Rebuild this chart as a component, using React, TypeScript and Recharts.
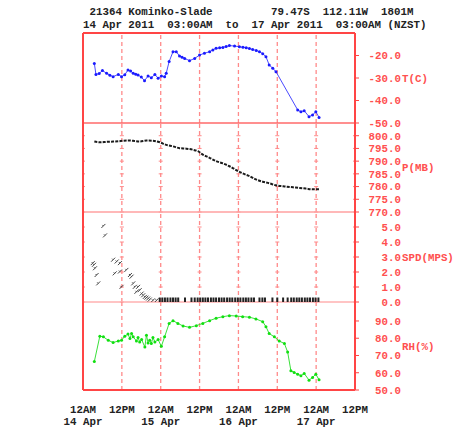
import React from 'react';
import { LineChart, Line, XAxis, YAxis, ReferenceLine } from 'recharts';

// ---------- data (hours since 14 Apr 2011 00:00) ----------
const tempHours = [3.5, 4, 5, 6, 7.3, 8.3, 9.3, 10.9, 11.9, 12.9, 13.9, 14.7, 15.5, 16.3, 17, 18, 19, 20.1, 21.1, 22.2, 23.2, 24.2, 25.2, 25.7, 26.6, 27.8, 28.8, 29.8, 30.6, 31.4, 32.9, 34.5, 36, 37.5, 39.1, 40.1, 41.1, 42.2, 43.2, 44.2, 45.2, 46.8, 48.3, 49.4, 50.4, 51.4, 52.4, 53.5, 54.5, 55.5, 56.5, 57.5, 58.6, 59.6, 66.3, 67.3, 68.3, 69.8, 70.9, 71.9, 72.9];
const tempValues = [-23.5, -28.4, -28.0, -26.7, -27.9, -28.8, -29.4, -28.4, -29.4, -28.6, -26.4, -26.9, -27.9, -28.3, -28.7, -29.6, -31.2, -29.1, -29.9, -28.4, -30.1, -29.1, -29.4, -27.9, -22.7, -18.3, -18.3, -20.2, -20.8, -21.3, -22.3, -21.3, -19.8, -19.0, -18.3, -17.5, -16.8, -16.6, -16.4, -16.0, -15.6, -15.8, -16.1, -16.3, -16.5, -16.9, -17.3, -17.8, -18.3, -19.2, -20.5, -24.2, -25.7, -27.2, -44.2, -45.0, -44.5, -47.2, -46.4, -45.0, -47.5];

const presHours = [3.5, 5.2, 7.3, 9.3, 10.9, 12.4, 14.5, 16, 17.5, 19.6, 21.6, 23.7, 25.7, 27.8, 29.8, 31.9, 33.9, 35.5, 37, 39.1, 41.1, 43.2, 45.2, 47.3, 49.3, 51.4, 53.4, 55.5, 57.5, 59.6, 62.7, 65.7, 68.8, 70.9, 72.9];
const presValues = [797.7, 797.4, 797.6, 797.7, 797.8, 798.0, 798.1, 797.9, 797.7, 798.1, 798.0, 797.4, 796.4, 795.8, 795.1, 794.9, 794.5, 793.9, 792.6, 791.3, 790.0, 789.1, 788.0, 786.5, 785.2, 784.1, 782.8, 781.9, 781.3, 780.5, 780.0, 779.6, 779.2, 778.9, 778.9];

const spdHours = [3.0, 3.4, 3.7, 4.2, 4.7, 6.3, 6.8, 9.3, 9.8, 10.4, 11.4, 11.4, 11.9, 13.4, 14.5, 15.0, 15.5, 16.0, 16.5, 17.0, 17.5, 18.1, 18.6, 19.1, 19.6, 20.1, 20.6, 21.6, 22.7, 23.7, 24.5, 25.3, 26.1, 27, 27.8, 28.6, 29.4, 31.5, 33.5, 34.5, 35.4, 36.2, 37.0, 37.8, 38.6, 39.5, 40.3, 41.1, 42, 42.8, 43.6, 44.5, 45.3, 46.1, 47, 47.8, 48.6, 49.5, 50.3, 51.1, 52, 52.8, 54.5, 55.4, 56.2, 58.5, 60, 61.8, 63.2, 64.3, 65.1, 66, 66.8, 67.6, 68.5, 69.3, 70.1, 71, 71.8, 72.7];
const spdValues = [2.59, 2.48, 2.25, 1.8, 1.24, 5.07, 4.44, 2.82, 1.91, 2.7, 2.59, 2.03, 1.01, 2.14, 1.8, 1.69, 1.24, 1.01, 0.68, 1.01, 0.79, 0.56, 0.45, 0.34, 0.29, 0.23, 0.16, 0.11, 0.11, 0, 0, 0, 0, 0, 0, 0, 0, 0, 0, 0, 0, 0, 0, 0, 0, 0, 0, 0, 0, 0, 0, 0, 0, 0, 0, 0, 0, 0, 0, 0, 0, 0, 0, 0, 0, 0, 0, 0, 0, 0, 0, 0, 0, 0, 0, 0, 0, 0, 0, 0];

const rhHours = [3.5, 5.2, 6.3, 7.8, 9.3, 10.9, 11.9, 12.9, 13.9, 14.5, 15, 15.5, 16.5, 17, 17.5, 18.1, 19.1, 19.6, 20.1, 20.6, 21.1, 21.6, 22.2, 23.2, 24.2, 25.2, 26.6, 27.8, 29.3, 30.9, 32.9, 35, 37, 39.1, 41.1, 43.2, 45.2, 47.3, 49.3, 51.4, 53.4, 55.5, 56.5, 57.5, 59.1, 60.6, 62.2, 63.2, 64.2, 65.2, 66.3, 67.3, 68.3, 69.8, 70.9, 71.9, 72.9];
const rhValues = [66.5, 81.2, 80.8, 78.8, 77.5, 78.4, 78.8, 81.2, 82.4, 79.8, 82.7, 80.8, 78.4, 80.4, 77.8, 79.2, 74.9, 81.8, 77.3, 78.8, 76.9, 80.4, 77.8, 79.2, 75.3, 80.8, 88.6, 90.2, 88.6, 87.1, 86.3, 87.3, 88.6, 90.2, 91.6, 92.5, 93.1, 92.9, 92.5, 92.2, 91.2, 89.6, 86.7, 82.7, 80.8, 78.4, 76.9, 72.0, 61.2, 60.2, 59.2, 58.2, 59.6, 55.7, 57.3, 59.2, 55.9];

const gridHours = [12, 24, 36, 48, 60, 72];
const xTickHours = [0, 12, 24, 36, 48, 60, 72, 84];
const xTickTimes = ['12AM', '12PM', '12AM', '12PM', '12AM', '12PM', '12AM', '12PM'];
const xTickDates = ['14 Apr', '', '15 Apr', '', '16 Apr', '', '17 Apr', ''];

const tempTicks = [-50, -40, -30, -20];
const presTicks = [770, 775, 780, 785, 790, 795, 800];
const spdTicks = [0, 1, 2, 3, 4, 5];
const rhTicks = [50, 60, 70, 80, 90];

const titleLine1 = ' 21364 Kominko-Slade         79.47S  112.11W  1801M';
const titleLine2 = '14 Apr 2011  03:00AM  to  17 Apr 2011  03:00AM (NZST)';

// ---------- styling ----------
const FONT = '"Liberation Mono", "DejaVu Sans Mono", monospace';
const FS = 10.8;
const FW = 'bold';
const RED_TEXT = '#ff5050';
const FRAME = '#ff4545';
const GRID = '#ff8a8a';

const LEFT = 83;
const RIGHT_W = 105;
const PLOT_W = 460 - LEFT - RIGHT_W;
const STEP12 = (PLOT_W / 84) * 12;
const PAD = 9;

const toRows = (hours: number[], values: number[]) => hours.map((h, i) => ({ h, v: values[i] }));

function RightTick(props: any) {
  const { x, y, payload } = props;
  return (
    <text x={x} y={y} dy={3.8} textAnchor="end" fill={RED_TEXT} fontFamily={FONT} fontSize={FS} fontWeight={FW}>
      {Number(payload.value).toFixed(1)}
    </text>
  );
}

function BottomTick(props: any) {
  const { x, y, payload } = props;
  const i = xTickHours.indexOf(payload.value);
  return (
    <g>
      <text x={x} y={y + 22.5} textAnchor="middle" fill="#222" fontFamily={FONT} fontSize={FS} fontWeight={FW}>
        {xTickTimes[i]}
      </text>
      <text x={x} y={y + 34.5} textAnchor="middle" fill="#222" fontFamily={FONT} fontSize={FS} fontWeight={FW}>
        {xTickDates[i]}
      </text>
    </g>
  );
}

function SpdDot(props: any) {
  const { cx, cy, value, index } = props;
  if (cx == null || cy == null) return <g key={index} />;
  if (value === 0) {
    return <rect key={index} x={cx - 1} y={cy - 4.5} width={2} height={6} fill="#222" />;
  }
  return <path key={index} d={`M${cx - 2},${cy + 2}L${cx + 2},${cy - 2}M${cx - 1},${cy - 1}L${cx},${cy}`} stroke="#444" strokeWidth={1} fill="none" />;
}

type PanelProps = {
  top: number;
  plotHeight: number;
  rows: { h: number; v: number }[];
  domain: [number, number];
  ticks: number[];
  title: string;
  topLine?: string;
  bottomLine?: string;
  crossTicks?: boolean;
  showX?: boolean;
  children: React.ReactNode;
};

function Panel({ top, plotHeight, rows, domain, ticks, title, topLine, bottomLine, crossTicks, showX, children }: PanelProps) {
  const xh = showX ? 40 : 0;
  const bottomPad = showX ? 0 : PAD;
  const h = plotHeight + PAD + bottomPad + xh;
  const titleContent = (p: any) => {
    const vb = p.viewBox || {};
    return (
      <text x={vb.x + 47} y={vb.y + vb.height / 2} dy={3.8} fill={RED_TEXT} fontFamily={FONT} fontSize={FS} fontWeight={FW}>
        {title}
      </text>
    );
  };
  return (
    <div style={{ position: 'absolute', left: 0, top: top - PAD, width: 460, height: h }}>
      <LineChart width={460} height={h} data={rows} margin={{ top: PAD, right: 0, bottom: bottomPad, left: 0 }}>
        <XAxis
          dataKey="h"
          type="number"
          domain={[0, 84]}
          ticks={xTickHours}
          allowDataOverflow
          hide={!showX}
          height={xh}
          axisLine={{ stroke: FRAME, strokeWidth: 2 }}
          tickLine={false}
          tickSize={0}
          tickMargin={0}
          interval={0}
          tick={<BottomTick />}
        />
        <YAxis yAxisId="l" orientation="left" width={LEFT} domain={domain} allowDataOverflow type="number" tick={false} tickLine={false} axisLine={{ stroke: FRAME, strokeWidth: 2 }} />
        <YAxis
          yAxisId="r"
          orientation="right"
          width={RIGHT_W}
          domain={domain}
          allowDataOverflow
          type="number"
          ticks={ticks}
          interval={0}
          tickSize={4}
          tickMargin={42}
          tickLine={{ stroke: FRAME, strokeWidth: 1 }}
          axisLine={{ stroke: FRAME, strokeWidth: 2 }}
          tick={<RightTick />}
          label={{ value: title, content: titleContent }}
        />
        {gridHours.map((g) => (
          <ReferenceLine key={g} x={g} yAxisId="r" stroke={GRID} strokeWidth={1.3} strokeDasharray="4 3" />
        ))}
        {crossTicks &&
          ticks.map((t) => (
            <ReferenceLine key={`c${t}`} y={t} yAxisId="r" stroke={GRID} strokeWidth={1} strokeDasharray={`4 ${STEP12 - 4}`} strokeDashoffset={2} />
          ))}
        {topLine && <ReferenceLine y={domain[1]} yAxisId="r" stroke={topLine} strokeWidth={2} />}
        {bottomLine && <ReferenceLine y={domain[0]} yAxisId="r" stroke={bottomLine} strokeWidth={1.6} />}
        {children}
      </LineChart>
    </div>
  );
}

export default function App() {
  return (
    <div style={{ position: 'absolute', left: 0, top: 0, width: 460, height: 430, background: '#fff', overflow: 'hidden' }}>
      <div style={{ position: 'absolute', left: LEFT, top: 6, fontFamily: FONT, fontSize: FS, fontWeight: FW, lineHeight: '13px', whiteSpace: 'pre', color: '#222' }}>
        <div>{titleLine1}</div>
        <div>{titleLine2}</div>
      </div>
      <Panel top={33} plotHeight={90} rows={toRows(tempHours, tempValues)} domain={[-50, -10]} ticks={tempTicks} title="T(C)" topLine={FRAME} bottomLine="#ff6a6a">
        <Line yAxisId="r" dataKey="v" type="linear" stroke="#4a4aff" strokeWidth={1} dot={{ r: 1.5, fill: '#1a1aff', stroke: 'none' }} isAnimationActive={false} />
      </Panel>
      <Panel top={123} plotHeight={89} rows={toRows(presHours, presValues)} domain={[770, 805]} ticks={presTicks} title="P(MB)" bottomLine="#ffa0a0" crossTicks>
        <Line yAxisId="r" dataKey="v" type="monotone" stroke="#1a1a1a" strokeWidth={2} strokeDasharray="3 1.2" dot={false} isAnimationActive={false} />
      </Panel>
      <Panel top={212} plotHeight={90} rows={toRows(spdHours, spdValues)} domain={[0, 6]} ticks={spdTicks} title="SPD(MPS)" bottomLine="#ffb0b0" crossTicks>
        <Line yAxisId="r" dataKey="v" stroke="none" strokeWidth={0} dot={<SpdDot />} isAnimationActive={false} />
      </Panel>
      <Panel top={302} plotHeight={88} rows={toRows(rhHours, rhValues)} domain={[50, 101]} ticks={rhTicks} title="RH(%)" showX>
        <Line yAxisId="r" dataKey="v" type="linear" stroke="#3ae03a" strokeWidth={1} dot={{ r: 1.5, fill: '#10e010', stroke: 'none' }} isAnimationActive={false} />
      </Panel>
    </div>
  );
}
